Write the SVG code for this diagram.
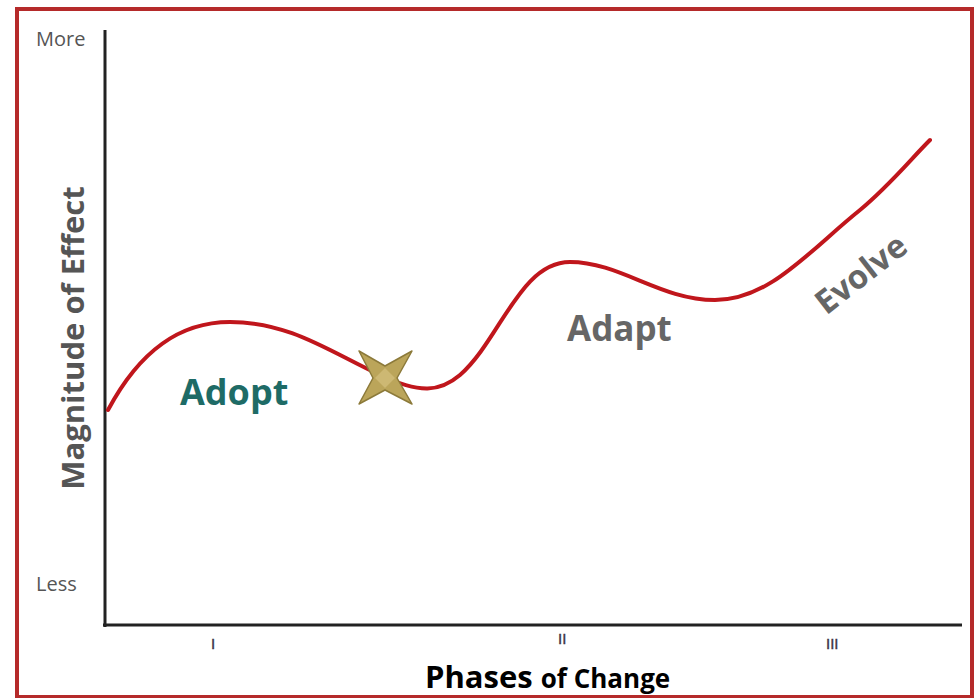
<svg xmlns="http://www.w3.org/2000/svg" width="980" height="698" viewBox="0 0 980 698">
  <style>
    .lbl { font-family: "Open Sans", "Liberation Sans", sans-serif; font-weight: bold; }
    .tick { font-family: "Liberation Sans", sans-serif; font-size: 15px; fill: #3e3548; stroke: #3e3548; stroke-width: 0.4; }
    .end { font-family: "Open Sans", "Liberation Sans", sans-serif; font-size: 20px; fill: #555; }
  </style>
  <rect x="0" y="0" width="980" height="698" fill="#ffffff"/>
  <!-- frame -->
  <rect x="17" y="9" width="955" height="688" fill="none" stroke="#b52a2a" stroke-width="4"/>

  <g id="axes" stroke="#222" stroke-width="3" fill="none">
    <line x1="105" y1="30" x2="105" y2="627"/>
    <line x1="103" y1="625" x2="962" y2="625"/>
  </g>

  <g id="axis-labels">
    <text class="end" x="36" y="46">More</text>
    <text class="end" x="36" y="591">Less</text>
    <text class="tick" x="211" y="649">I</text>
    <text class="tick" x="558" y="644">II</text>
    <text class="tick" x="826" y="649">III</text>
    <text class="lbl" x="425" y="688" font-size="31" fill="#000">Phases <tspan font-size="26">of Change</tspan></text>
    <text class="lbl" transform="translate(84,338) rotate(-90)" text-anchor="middle" font-size="31" fill="#555">Magnitude of Effect</text>
  </g>

  <!-- magnitude curve -->
  <g id="curve">
    <path d="M108,410 C140,350 180,322 230,322 C290,322 330,352 380,375 C420,394 440,392 460,375 C500,340 520,262 570,262 C620,262 660,300 715,300 C770,300 810,250 860,210 C890,185 910,160 930,140" fill="none" stroke="#c0161c" stroke-width="4" stroke-linecap="round"/>
  </g>

  <!-- transition marker -->
  <g id="star">
    <path d="M385,366 L412,351 L397,378 L412,404 L385,390 L359,404 L373,378 L359,351 Z" fill="#bba55a" stroke="#8c7a3a" stroke-width="1.5" stroke-linejoin="round"/>
    <path d="M385,368 L395,378 L385,388 L375,378 Z" fill="#cdb873"/>
  </g>

  <g id="phase-labels">
    <text class="lbl" x="180" y="405" font-size="36" fill="#1e6b66">Adopt</text>
    <text class="lbl" x="567" y="341" font-size="35" fill="#666">Adapt</text>
    <text class="lbl" transform="translate(868,283) rotate(-38)" text-anchor="middle" font-size="33" fill="#666">Evolve</text>
  </g>
</svg>
